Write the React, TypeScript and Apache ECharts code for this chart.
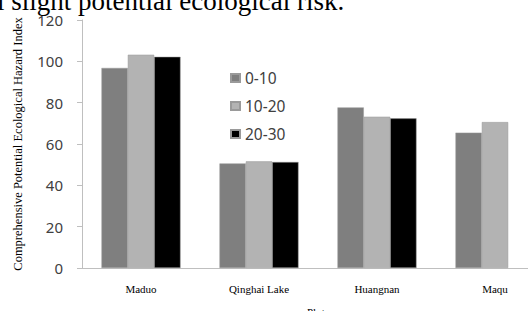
import React, { useEffect, useRef } from "react";
import * as echarts from "echarts";

const categories = ["Maduo", "Qinghai Lake", "Huangnan", "Maqu"];
const seriesNames = ["0-10", "10-20", "20-30"];
const depth0to10 = [96.8, 50.6, 77.7, 65.5];
const depth10to20 = [103.2, 51.6, 73.2, 70.6];
const depth20to30 = [102.2, 51.3, 72.4, null];
const yTicks = [0, 20, 40, 60, 80, 100, 120];

export default function App() {
  const ref = useRef<HTMLDivElement>(null);
  useEffect(() => {
    document.body.style.margin = "0";
    const chart = echarts.init(ref.current!, undefined, { renderer: "svg" });
    const barStyle = (color: string) => ({ color, borderColor: "#9a9a9a", borderWidth: 0.5 });
    chart.setOption({
      animation: false,
      backgroundColor: "#ffffff",
      grid: { left: 82, width: 472, top: 20, height: 248, containLabel: false, outerBoundsMode: "none" },
      legend: {
        orient: "vertical",
        left: 225,
        top: 65,
        itemWidth: 9,
        itemHeight: 8,
        itemGap: 12,
        icon: "rect",
        textStyle: { fontFamily: "Noto Sans", fontSize: 15.5, color: "#404040" },
        data: seriesNames,
      },
      graphic: [
        {
          type: "text",
          x: -3,
          y: 1,
          style: {
            text: "l slight potential ecological risk.",
            fontSize: 27,
            fontFamily: "Liberation Serif",
            fill: "#000000",
            verticalAlign: "middle",
          },
        },
      ],
      xAxis: {
        type: "category",
        data: categories,
        name: "Plots",
        nameLocation: "middle",
        nameGap: 38,
        nameTextStyle: { fontFamily: "Liberation Serif", fontSize: 11, color: "#000" },
        axisLine: { lineStyle: { color: "#bfbfbf", width: 1 } },
        axisTick: { show: false },
        axisLabel: { fontFamily: "Liberation Serif", fontSize: 11, color: "#000", margin: 15 },
      },
      yAxis: {
        type: "value",
        min: yTicks[0],
        max: yTicks[yTicks.length - 1],
        interval: 20,
        name: "Comprehensive Potential Ecological Hazard Index",
        nameLocation: "middle",
        nameGap: 58,
        nameTextStyle: { fontFamily: "Liberation Serif", fontSize: 12.5, color: "#000" },
        axisLine: { show: true, lineStyle: { color: "#bfbfbf", width: 1 } },
        axisTick: { show: true, length: 5, lineStyle: { color: "#bfbfbf" } },
        splitLine: { show: false },
        axisLabel: { fontFamily: "Noto Sans", fontSize: 15, color: "#404040", margin: 19 },
      },
      series: [
        {
          name: seriesNames[0],
          type: "bar",
          data: depth0to10,
          barGap: "0%",
          barCategoryGap: "33%",
          itemStyle: barStyle("#7f7f7f"),
        },
        {
          name: seriesNames[1],
          type: "bar",
          data: depth10to20,
          itemStyle: barStyle("#b3b3b3"),
        },
        {
          name: seriesNames[2],
          type: "bar",
          data: depth20to30,
          itemStyle: barStyle("#000000"),
        },
      ],
    });
    return () => chart.dispose();
  }, []);
  return <div ref={ref} style={{ width: 528, height: 311, overflow: "hidden" }} />;
}
